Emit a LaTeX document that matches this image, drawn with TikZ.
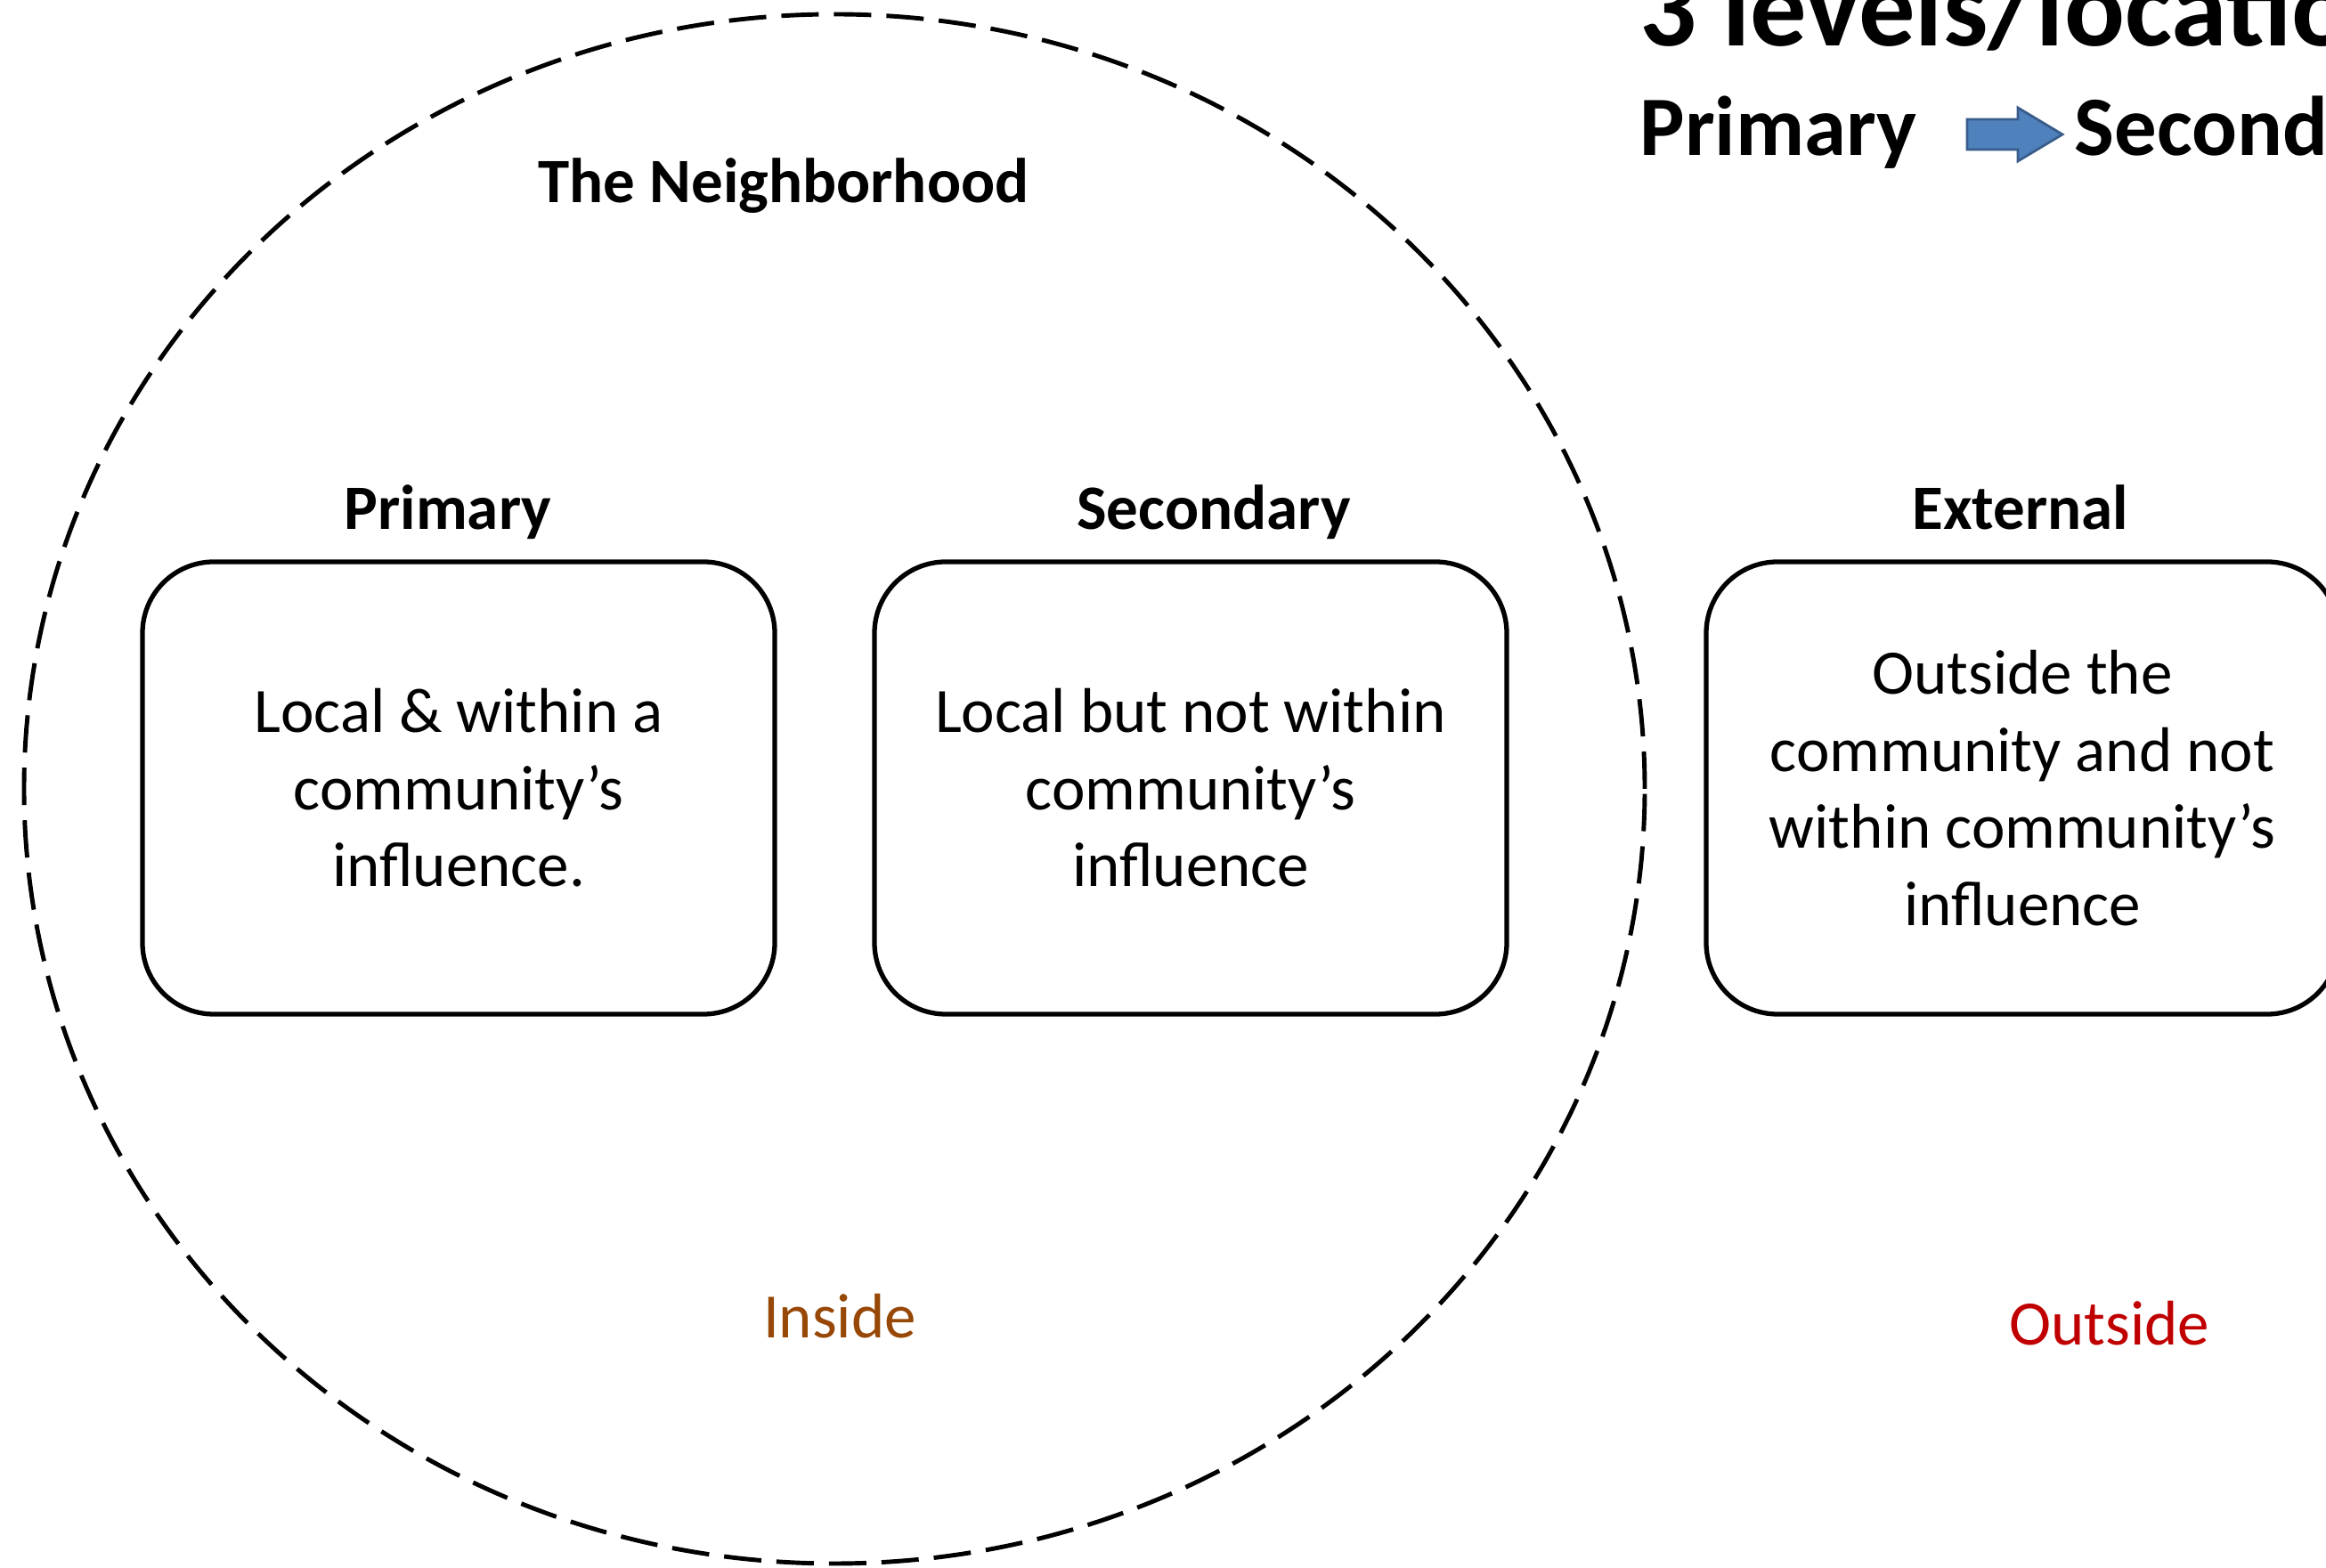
\documentclass[tikz,border=0pt]{standalone}
\usepackage{fontspec}
\setmainfont{Carlito}
\definecolor{insidecol}{HTML}{974806}
\definecolor{outsidecol}{HTML}{C00000}
\definecolor{arrowfill}{HTML}{4F81BD}
\definecolor{arrowline}{HTML}{385D8A}
\tikzset{
  levelbox/.style={draw, line width=1.5pt, rounded corners=0.8cm,
    minimum width=7.1cm, minimum height=5.08cm, align=center,
    font=\fontsize{20.2}{24.6}\selectfont},
  levelhead/.style={anchor=base, font=\fontsize{20.2}{24.6}\selectfont\bfseries},
  sidelabel/.style={anchor=base, font=\fontsize{20.2}{24.6}\selectfont}
}
\begin{document}
\begin{tikzpicture}
    \useasboundingbox (0,0) rectangle (26.12,17.61);
    \clip (0,0) rectangle (26.12,17.61);
    % neighborhood boundary
    \draw[line width=1.4pt, dash pattern=on 0.42cm off 0.17cm] (9.37,8.75) ellipse [x radius=9.10, y radius=8.70];
    \node[levelhead] (hood) at (8.80,15.33) {The Neighborhood};
    % the three levels
    \node[levelbox] (prim) at (5.15,8.76) {Local \& within a\\community’s\\influence.};
    \node[levelbox] (sec) at (13.37,8.76) {Local but not within\\community’s\\influence};
    \node[levelbox] (ext) at (22.71,8.76) {Outside the\\community and not\\within community’s\\influence};
    \node[levelhead] (primhead) at (5.03,11.66) {Primary};
    \node[levelhead] (sechead) at (13.63,11.66) {Secondary};
    \node[levelhead] (exthead) at (22.69,11.66) {External};
    \node[sidelabel, text=insidecol] (inside) at (9.43,2.58) {Inside};
    \node[sidelabel, text=outsidecol] (outside) at (23.69,2.50) {Outside};
    % title in the corner
    \node[anchor=base west, inner sep=0, font=\fontsize{36}{43}\selectfont\bfseries] (title) at (18.41,17.09) {3 levels/locations};
    \node[anchor=base west, inner sep=0, font=\fontsize{27}{32}\selectfont\bfseries] (order1) at (18.41,15.86) {Primary};
    \node[anchor=base west, inner sep=0, font=\fontsize{27}{32}\selectfont\bfseries] (order2) at (23.29,15.86) {Secondary};
    \filldraw[fill=arrowfill, draw=arrowline, line width=0.8pt]
      (22.09,15.93) -- (22.66,15.93) -- (22.66,15.80) -- (23.16,16.10)
      -- (22.66,16.40) -- (22.66,16.27) -- (22.09,16.27) -- cycle;
\end{tikzpicture}
\end{document}
